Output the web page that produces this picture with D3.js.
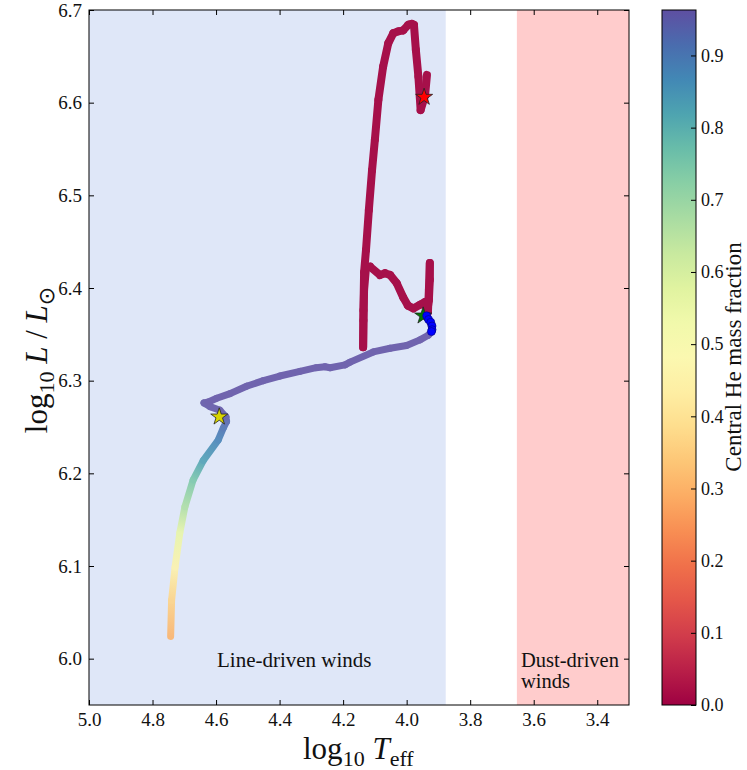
<!DOCTYPE html>
<html>
<head>
<meta charset="utf-8">
<script src="https://cdn.jsdelivr.net/npm/d3@7"></script>
<style>
body { margin: 0; background: #fff; }
text { font-family: "Liberation Serif", "DejaVu Serif", serif; fill: #111; }
</style>
</head>
<body>
<div id="chart"></div>
<script>
// evolutionary track: log Teff, log L, central He mass fraction
const trackTeff = [
    4.743, 4.740, 4.729, 4.714, 4.698, 4.672, 4.640, 4.593, 4.577, 4.567, 4.569, 4.588, 4.619, 4.638,
    4.624, 4.598, 4.556, 4.504, 4.451, 4.399, 4.336, 4.285, 4.257, 4.241, 4.194, 4.178, 4.105, 4.052,
    4.000, 3.958, 3.932, 3.921, 3.920, 3.931, 3.937,
    3.930, 3.927, 3.927, 3.930, 3.933, 3.942, 3.958, 3.979, 3.996, 4.011, 4.031, 4.052, 4.068, 4.084,
    4.115, 4.128, 4.134, 4.136, 4.137, 4.136, 4.134, 4.128, 4.119, 4.109, 4.100, 4.089, 4.074, 4.058,
    4.042, 4.026, 4.011, 3.995, 3.984, 3.977, 3.971, 3.963, 3.956, 3.942, 3.936
];
const trackLum = [
    6.024, 6.063, 6.099, 6.136, 6.164, 6.193, 6.214, 6.236, 6.249, 6.256, 6.261, 6.268, 6.272, 6.276,
    6.277, 6.281, 6.286, 6.294, 6.300, 6.305, 6.310, 6.314, 6.315, 6.314, 6.317, 6.320, 6.331, 6.335,
    6.338, 6.344, 6.349, 6.353, 6.356, 6.366, 6.370,
    6.387, 6.409, 6.427, 6.398, 6.374, 6.385, 6.382, 6.378, 6.381, 6.390, 6.405, 6.414, 6.416, 6.414,
    6.423, 6.422, 6.398, 6.365, 6.336, 6.376, 6.417, 6.441, 6.484, 6.527, 6.560, 6.603, 6.639, 6.664,
    6.675, 6.677, 6.678, 6.684, 6.685, 6.684, 6.657, 6.628, 6.592, 6.608, 6.630
];
const trackHe = [
    0.30, 0.36, 0.45, 0.56, 0.67, 0.75, 0.83, 0.88, 0.91, 0.93, 0.95, 0.96, 0.96, 0.96,
    0.963, 0.963, 0.963, 0.963, 0.963, 0.963, 0.963, 0.963, 0.963, 0.963, 0.963, 0.963, 0.963, 0.963,
    0.963, 0.963, 0.963, 0.963, 0.963, 0.50, 0.02,
    0.01, 0.01, 0.01, 0.01, 0.01, 0.01, 0.01, 0.01, 0.01, 0.01, 0.01, 0.01, 0.01, 0.01,
    0.01, 0.01, 0.01, 0.01, 0.01, 0.01, 0.01, 0.01, 0.01, 0.01, 0.01, 0.01, 0.01, 0.01,
    0.01, 0.01, 0.01, 0.01, 0.01, 0.01, 0.01, 0.01, 0.01, 0.01, 0.01
];

// core He burning markers
const burnTeff = [3.937, 3.931, 3.924, 3.920, 3.920, 3.922];
const burnLum = [6.370, 6.366, 6.363, 6.359, 6.355, 6.353];

// phase stars: end of MS, He ignition, end of run
const starNames = ["tams", "heIgnition", "final"];
const starTeff = [4.590, 3.948, 3.945];
const starLum = [6.261, 6.370, 6.606];

// wind regimes
const windNames = ["Line-driven winds", "Dust-driven winds"];
const windFrom = [5.0, 3.653];
const windTo = [3.877, 3.3];

const xTicks = [5.0, 4.8, 4.6, 4.4, 4.2, 4.0, 3.8, 3.6, 3.4];
const yTicks = [6.0, 6.1, 6.2, 6.3, 6.4, 6.5, 6.6, 6.7];
const cbTicks = [0.0, 0.1, 0.2, 0.3, 0.4, 0.5, 0.6, 0.7, 0.8, 0.9];

const width = 747, height = 770;
const plot = { left: 89, right: 629, top: 10, bottom: 705 };
const lineBg = "#dfe7f8", dustBg = "#ffcccc";
const starFill = { tams: "#d8d400", heIgnition: "#007a00", final: "#ff0000" };

const x = d3.scaleLinear().domain([5.0, 3.3]).range([plot.left, plot.right]);
const y = d3.scaleLinear().domain([5.95, 6.7]).range([plot.bottom, plot.top]);
const color = d3.scaleSequential(d3.interpolateSpectral).domain([0, 0.963]);
const paled = v => d3.interpolateRgb(color(v), lineBg)(v < 0.05 ? 0.04 : 0.14);

const svg = d3.select("#chart")
    .append("svg")
        .attr("width", width)
        .attr("height", height);

const defs = svg.append("defs");
defs.append("clipPath").attr("id", "clip")
    .append("rect")
        .attr("x", plot.left).attr("y", plot.top)
        .attr("width", plot.right - plot.left)
        .attr("height", plot.bottom - plot.top);

// wind regions
svg.append("g")
    .selectAll("rect")
    .data(windNames)
    .enter()
        .append("rect")
        .attr("x", (d, i) => x(windFrom[i]))
        .attr("y", plot.top)
        .attr("width", (d, i) => x(windTo[i]) - x(windFrom[i]))
        .attr("height", plot.bottom - plot.top)
        .attr("fill", (d, i) => i === 0 ? lineBg : dustBg);

svg.append("text")
    .attr("x", 217).attr("y", 667)
    .style("font-size", "21px")
    .text(windNames[0]);

const dust = svg.append("text")
    .attr("x", 521).attr("y", 667)
    .style("font-size", "20.5px");
dust.append("tspan").attr("x", 521).text("Dust-driven");
dust.append("tspan").attr("x", 521).attr("dy", 21).text("winds");

// track, one gradient segment per pair of points
const pts = trackTeff.map((t, i) => [x(t), y(trackLum[i]), trackHe[i]]);
const segs = d3.pairs(pts);

defs.selectAll("linearGradient")
    .data(segs)
    .enter()
        .append("linearGradient")
        .attr("id", (d, i) => "seg" + i)
        .attr("gradientUnits", "userSpaceOnUse")
        .attr("x1", d => d[0][0]).attr("y1", d => d[0][1])
        .attr("x2", d => d[1][0]).attr("y2", d => d[1][1])
        .each(function (d) {
            const g = d3.select(this);
            g.append("stop").attr("offset", "0%").attr("stop-color", paled(d[0][2]));
            g.append("stop").attr("offset", "100%").attr("stop-color", paled(d[1][2]));
        });

svg.append("g")
    .attr("clip-path", "url(#clip)")
    .selectAll("line")
    .data(segs)
    .enter()
        .append("line")
        .attr("x1", d => d[0][0]).attr("y1", d => d[0][1])
        .attr("x2", d => d[1][0]).attr("y2", d => d[1][1])
        .attr("stroke", (d, i) => "url(#seg" + i + ")")
        .attr("stroke-width", d => d[0][2] < 0.05 ? 8 : 7)
        .attr("stroke-linecap", "round");

// markers
const star = d3.symbol().type(d3.symbolStar).size(90);
svg.append("g")
    .selectAll("path")
    .data(starNames.slice(0, 2))
    .enter()
        .append("path")
        .attr("d", star)
        .attr("transform", (d, i) => `translate(${x(starTeff[i])},${y(starLum[i])})`)
        .attr("fill", d => starFill[d])
        .attr("stroke", "#222")
        .attr("stroke-width", 0.8);

svg.append("g")
    .selectAll("circle")
    .data(burnTeff)
    .enter()
        .append("circle")
        .attr("cx", d => x(d))
        .attr("cy", (d, i) => y(burnLum[i]))
        .attr("r", 4)
        .attr("fill", "#0000ff")
        .attr("stroke", "#000080")
        .attr("stroke-width", 0.6);

svg.append("path")
    .attr("d", star)
    .attr("transform", `translate(${x(starTeff[2])},${y(starLum[2])})`)
    .attr("fill", starFill.final)
    .attr("stroke", "#222")
    .attr("stroke-width", 0.8);

// axes with inward ticks on all sides
const fmt = d3.format(".1f");
const styleAxis = size => g => {
    g.select(".domain").remove();
    g.selectAll("line").attr("stroke", "#000");
    g.selectAll("text").style("font-size", size + "px").style("font-family", "Liberation Serif, serif").attr("fill", "#111");
};

svg.append("g")
    .attr("transform", `translate(0,${plot.bottom})`)
    .call(d3.axisBottom(x).tickValues(xTicks).tickFormat(fmt).tickSize(-5).tickPadding(8))
    .call(styleAxis(19));
svg.append("g")
    .attr("transform", `translate(0,${plot.top})`)
    .call(d3.axisTop(x).tickValues(xTicks).tickFormat("").tickSize(-5))
    .call(styleAxis(19));
svg.append("g")
    .attr("transform", `translate(${plot.left},0)`)
    .call(d3.axisLeft(y).tickValues(yTicks).tickFormat(fmt).tickSize(-5).tickPadding(7))
    .call(styleAxis(19));
svg.append("g")
    .attr("transform", `translate(${plot.right},0)`)
    .call(d3.axisRight(y).tickValues(yTicks).tickFormat("").tickSize(-5))
    .call(styleAxis(19));

svg.append("rect")
    .attr("x", plot.left).attr("y", plot.top)
    .attr("width", plot.right - plot.left)
    .attr("height", plot.bottom - plot.top)
    .attr("fill", "none")
    .attr("stroke", "#000")
    .attr("stroke-width", 1);

// axis titles
const xt = svg.append("text")
    .attr("x", 303).attr("y", 759)
    .style("font-size", "31px");
xt.append("tspan").text("log");
xt.append("tspan").attr("dy", 7).style("font-size", "22px").text("10");
xt.append("tspan").attr("dy", -7).text(" ");
xt.append("tspan").style("font-style", "italic").text("T");
xt.append("tspan").attr("dy", 7).style("font-size", "22px").text("eff");

const yt = svg.append("text")
    .attr("transform", "translate(47,360) rotate(-90)")
    .attr("text-anchor", "middle")
    .style("font-size", "31px");
yt.append("tspan").text("log");
yt.append("tspan").attr("dy", 7).style("font-size", "22px").text("10");
yt.append("tspan").attr("dy", -7).text(" ");
yt.append("tspan").style("font-style", "italic").text("L");
yt.append("tspan").text(" / ");
yt.append("tspan").style("font-style", "italic").text("L");
yt.append("tspan").attr("dy", 7).style("font-size", "22px").style("font-family", "DejaVu Sans").text("\u2299");

// colour bar
const cb = { x: 662, w: 34 };
const cy = d3.scaleLinear().domain([0, 0.963]).range([plot.bottom, plot.top]);
const grad = defs.append("linearGradient")
    .attr("id", "cbar")
    .attr("x1", 0).attr("y1", 1).attr("x2", 0).attr("y2", 0);
d3.range(0, 1.0001, 0.05).forEach(t => {
    grad.append("stop").attr("offset", t).attr("stop-color", d3.interpolateSpectral(t));
});
svg.append("rect")
    .attr("x", cb.x).attr("y", plot.top)
    .attr("width", cb.w).attr("height", plot.bottom - plot.top)
    .attr("fill", "url(#cbar)")
    .attr("stroke", "#000")
    .attr("stroke-width", 1);
svg.append("g")
    .attr("transform", `translate(${cb.x + cb.w},0)`)
    .call(d3.axisRight(cy).tickValues(cbTicks).tickFormat(fmt).tickSize(-5).tickPadding(5))
    .call(styleAxis(18));

svg.append("text")
    .attr("transform", "translate(741,357) rotate(-90)")
    .attr("text-anchor", "middle")
    .style("font-size", "23px")
    .text("Central He mass fraction");
</script>
</body>
</html>
